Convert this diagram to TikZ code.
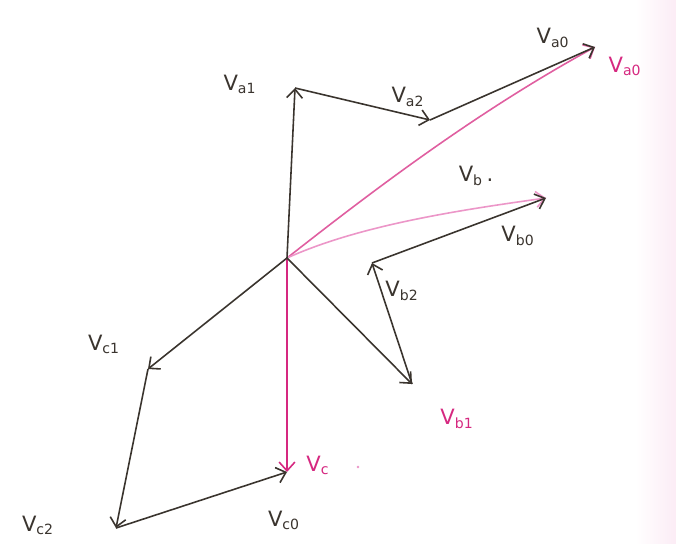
\documentclass[tikz,border=0pt]{standalone}
\usepackage{fontspec}
\setsansfont{DejaVu Sans}
\usetikzlibrary{arrows.meta}
\definecolor{inkdark}{RGB}{58,52,46}
\definecolor{inkpink}{RGB}{214,40,128}
\definecolor{inkpale}{RGB}{236,150,200}
\newcommand{\vlab}[2]{V\textsubscript{#1}#2}

\begin{document}
\begin{tikzpicture}[
  x=0.02cm, y=-0.02cm,
  phasor/.style={draw=inkdark, line width=0.9pt, -{Straight Barb[length=5pt, width=9pt]}},
  resultant/.style={draw=inkpink, line width=0.9pt, -{Straight Barb[length=5pt, width=9pt]}},
  lbl/.style={font=\sffamily\large, text=inkdark, inner sep=1pt},
  pinklbl/.style={font=\sffamily\large, text=inkpink, inner sep=1pt}
]
% Page frame and faint pink strip at the right edge
\useasboundingbox (0,0) rectangle (676,544);
\fill[white] (0,0) rectangle (676,544);
\shade[left color=white, right color=inkpale!18] (635,0) rectangle (676,544);

% Phasor end points
\coordinate (O)   at (287,258);
\coordinate (va1) at (295,88);
\coordinate (va2) at (430,120);
\coordinate (va0) at (595,47);
\coordinate (vb1) at (412,384);
\coordinate (vb2) at (372,263);
\coordinate (vb0) at (546,198);
\coordinate (vc1) at (148,369);
\coordinate (vc2) at (116,528);
\coordinate (vc0) at (287,472);

% Resultants (pink)
\draw[resultant, draw=inkpink!75] (O) .. controls (380,185) and (480,110) .. (va0);
\draw[resultant, draw=inkpale] (O) .. controls (360,225) and (460,210) .. (vb0);
\draw[resultant] (O) -- (vc0);

% Phase a sequence components
\draw[phasor] (O) -- (va1);
\draw[phasor] (va1) -- (va2);
\draw[phasor] (va2) -- (va0);

% Phase b sequence components
\draw[phasor] (O) -- (vb1);
\draw[phasor] (vb1) -- (vb2);
\draw[phasor] (vb2) -- (vb0);

% Phase c sequence components
\draw[phasor] (O) -- (vc1);
\draw[phasor] (vc1) -- (vc2);
\draw[phasor] (vc2) -- (vc0);

% Labels
\node[lbl] (la1) at (240,84) {\vlab{a1}{}};
\node[lbl] (la2) at (408,97) {\vlab{a2}{}};
\node[lbl] (la0) at (553,38) {\vlab{a0}{}};
\node[pinklbl] (lva) at (625,66) {\vlab{a0}{}};
\node[lbl] (lbdot) at (476,176) {\vlab{b}{\,.}};
\node[lbl] (lb0) at (518,236) {\vlab{b0}{}};
\node[lbl] (lb2) at (402,291) {\vlab{b2}{}};
\node[pinklbl] (lvb) at (457,419) {\vlab{b1}{}};
\node[lbl] (lc1) at (104,344) {\vlab{c1}{}};
\node[lbl] (lc2) at (38,525) {\vlab{c2}{}};
\node[lbl] (lc0) at (284,520) {\vlab{c0}{}};
\node[pinklbl] (lvc) at (318,465) {\vlab{c}{}};
\fill[inkpale] (358,467) circle (1.3);
\end{tikzpicture}
\end{document}
